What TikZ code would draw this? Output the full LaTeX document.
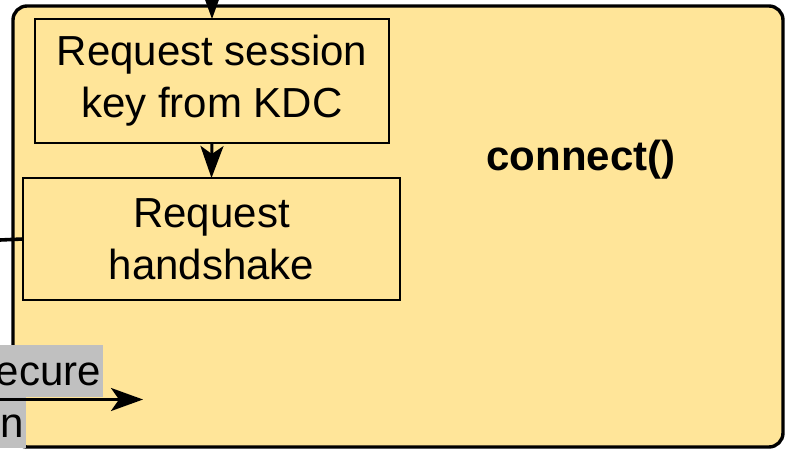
\documentclass[tikz,border=0pt]{standalone}
\usepackage{fontspec}
\setmainfont{Liberation Sans}
\usetikzlibrary{arrows.meta}
\definecolor{boxfill}{HTML}{FFE599}
\definecolor{lblgray}{HTML}{C0C0C0}
\tikzset{
  container/.style={draw, line width=3.4pt, rounded corners=14pt, fill=boxfill, outer sep=0pt, inner sep=0pt},
  stepbox/.style={draw, line width=2.2pt, fill=boxfill, outer sep=0pt, inner sep=0pt, align=center,
    font=\fontsize{42}{52}\selectfont},
  boldlabel/.style={font=\fontsize{42}{52}\selectfont\bfseries, inner sep=0pt},
  graylabel/.style={font=\fontsize{42}{52}\selectfont, inner sep=0pt},
  graybg/.style={fill=lblgray, draw=none},
  flowarrow/.style={line width=3pt, arrows={-Stealth[length=32pt, width=23pt, inset=8pt]}},
  plainline/.style={line width=3.6pt},
}
\begin{document}
\begin{tikzpicture}[x=1pt,y=-1pt]
\useasboundingbox (0,0) rectangle (788,455);
% container
\node[container, minimum width=770pt, minimum height=441pt] (main) at (398,226.5) {};
\node[boldlabel, anchor=base] (title) at (581,170) {connect()};
% steps
\node[stepbox, minimum width=354pt, minimum height=124pt] (kdc) at (212,81) {Request session\\key from KDC};
\node[stepbox, minimum width=377pt, minimum height=122pt] (hs) at (211.5,239) {Request\\handshake};
% incoming and internal arrows
\coordinate (topin) at (212,-14);
\draw[flowarrow] (topin) -- (kdc.north);
\draw[flowarrow] (kdc.south) -- (hs.north);
\coordinate (leftin) at (0,240);
\draw[plainline] (leftin) -- (hs.west);
% gray label (clipped at the picture's left edge)
\fill[graybg] (0,345) rectangle (103,397);
\fill[graybg] (0,397) rectangle (26,448);
\node[graylabel, anchor=base east] (lblA) at (101,385) {ecure};
\node[graylabel, anchor=base east] (lblB) at (24.5,437) {n};
\coordinate (outsrc) at (0,399.5);
\coordinate (outtip) at (143,399.5);
\draw[flowarrow] (outsrc) -- (outtip);
\end{tikzpicture}
\end{document}
